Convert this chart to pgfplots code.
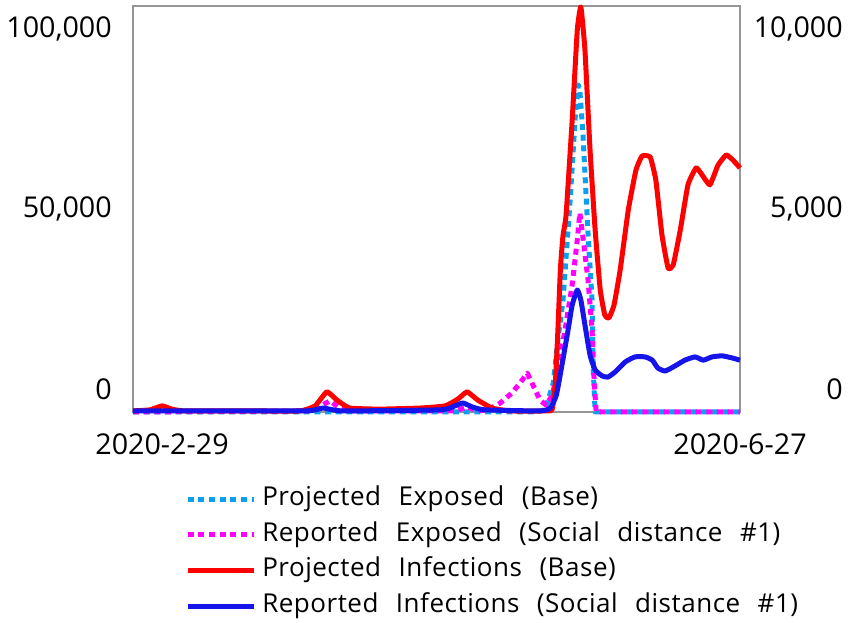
\documentclass[border=0pt]{standalone}
\usepackage{fontspec}
\setmainfont{Open Sans}
\newfontfamily\legfont[WordSpace=2.4,LetterSpace=2]{Open Sans}
\usepackage{pgfplots}
\pgfplotsset{compat=1.18}
\definecolor{lblue}{RGB}{10,160,240}
\definecolor{dblue}{RGB}{20,20,235}
\definecolor{mag}{RGB}{255,0,255}
\definecolor{frame}{RGB}{150,150,150}
\begin{document}
\begin{tikzpicture}
\useasboundingbox (0,0) rectangle (639.75pt,467.25pt);
\begin{axis}[
  at={(99.75pt,158.25pt)}, anchor=south west,
  scale only axis, width=455.25pt, height=304.5pt,
  xmin=0, xmax=119, ymin=0, ymax=112.78,
  clip=false,
  axis line style={draw=frame, line width=1.5pt},
  xtick={0,119}, xticklabels={{\hspace{43.5pt}2020-2-29},{2020-6-27}},
  ytick={0,50,100}, yticklabels={{0\hspace{12.75pt}},{50,000},{100,000}},
  major tick length=0pt,
  tick label style={font=\fontsize{21.5}{25}\selectfont},
  yticklabel style={anchor=east, inner sep=0pt, xshift=-15.75pt, yshift=17.25pt},
  xticklabel style={anchor=north, inner sep=0pt, yshift=-15.75pt},
  legend style={at={(0.0857,-0.17)}, anchor=north west, draw=none, fill=none,
    inner sep=0pt, row sep=0pt,
    font=\legfont\fontsize{19.5}{23}\selectfont,
    nodes={inner sep=0pt, text height=18pt, text depth=8.8pt},
    /tikz/every odd column/.append style={column sep=4.5pt}},
  legend cell align=left,
  legend image code/.code={\draw[#1] (0pt,0pt) -- (49.5pt,0pt);},
  every axis plot/.append style={line width=3.75pt, line join=round},
]
\addplot[lblue, dash pattern=on 4.5pt off 3.5pt] coordinates {
(0,0) (78.8,0) (80.8,0.6) (82.4,8.1) (83.3,20) (84.3,31.1) (85.7,58.9) (86.7,81.9) (87.3,90.8) (87.6,89.4) (88.2,77.5) (89.2,49.7) (90,31.1) (90.2,12.5) (90.6,0) (119,0)};
\addlegendentry{Projected Exposed (Base)}
\addplot[mag, dash pattern=on 4.5pt off 3.5pt] coordinates {
(0,0) (34.7,0.3) (37.1,1.9) (38.6,3.1) (40.2,1.4) (42.5,0.3) (63.1,0.3) (65.5,1.4) (67.6,0.3) (69.6,0.6) (72,2.5) (74.3,5.3) (75.9,8.1) (77.3,10.8) (78.4,7.5) (79.8,3.3) (81,1.9) (82.2,4.7) (83.3,11.7) (84.7,22.8) (86.1,35.3) (87.1,47.8) (87.6,55.3) (88.4,46.4) (89.2,36.7) (90,22.8) (90.4,8.9) (90.8,0) (119,0)};
\addlegendentry{Reported Exposed (Social distance \#1)}
\addplot[red, smooth, tension=0.25] coordinates {
(0,0.3) (3.3,0.6) (5.7,1.7) (7.6,0.8) (10.2,0.3) (22.9,0.3) (32.7,0.3) (35.7,1.7) (38.0,5.6) (40.0,3.3) (42.5,1.1) (48.4,0.8) (56.3,1.1) (61.2,1.7) (63.7,3.6) (65.5,5.6) (67.6,3.3) (70.4,1.1) (73.9,0.3) (81.4,0.3) (82.2,0.8) (82.8,8) (83.3,22.8) (83.8,40) (84.3,49) (84.9,54.7) (86.1,81.1) (87.1,106.1) (87.8,112.5) (88.6,100.6) (89.6,72.8) (90.6,50.6) (91.6,33.9) (92.5,26.9) (93.3,26.1) (94.3,29.7) (95.5,39.4) (97.1,56.1) (98.6,67.2) (99.8,71.1) (101.4,70.8) (102.5,64.4) (103.7,49.2) (104.9,40) (105.9,40.8) (107.3,50.6) (108.8,63.1) (110.4,67.8) (111.6,65.8) (113.1,63.1) (114.7,68.6) (116.3,71.4) (117.6,70) (119,67.8)};
\addlegendentry{Projected Infections (Base)}
\addplot[dblue, smooth, tension=0.3] coordinates {
(0,0.3) (32.7,0.3) (35.7,0.6) (37.3,1.1) (39.2,0.6) (41.6,0.3) (60.2,0.6) (63.1,1.7) (64.7,2.5) (66.5,1.4) (69,0.6) (79.8,0.3) (81.8,1.1) (83,4.7) (84.1,13.1) (85.3,22.8) (86.1,29.7) (87.1,33.9) (87.8,31.1) (88.6,24.2) (89.6,15.8) (90.6,11.7) (92,10) (93.1,9.7) (94.5,11.1) (96.5,13.9) (98.4,15.3) (100.4,15.3) (101.8,14.4) (102.9,12.2) (104.3,11.4) (105.9,12.5) (108.2,14.4) (110.2,15.3) (111.8,14.4) (113.5,15.3) (115.5,15.6) (117.5,15) (119,14.4)};
\addlegendentry{Reported Infections (Social distance \#1)}
\end{axis}
\begin{axis}[
  at={(99.75pt,158.25pt)}, anchor=south west,
  scale only axis, width=455.25pt, height=304.5pt,
  xmin=0, xmax=119, ymin=0, ymax=11.278,
  hide x axis, axis y line*=right, axis line style={draw=none},
  ytick={0,5,10}, yticklabels={{0\hspace{16.5pt}},{5,000},{10,000}},
  major tick length=0pt,
  tick label style={font=\fontsize{21.5}{25}\selectfont},
  yticklabel style={anchor=east, inner sep=0pt, xshift=77.25pt, yshift=17.25pt},
]
\end{axis}
\end{tikzpicture}
\end{document}
